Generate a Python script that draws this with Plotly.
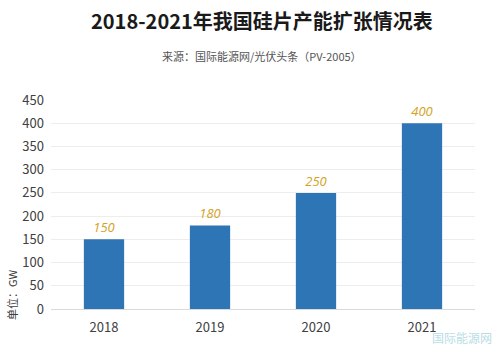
import plotly.graph_objects as go

years = ["2018", "2019", "2020", "2021"]
capacity = [150, 180, 250, 400]
y_ticks = [0, 50, 100, 150, 200, 250, 300, 350, 400, 450]

font_cjk = "Noto Sans CJK SC, Microsoft YaHei, sans-serif"

fig = go.Figure()
fig.add_trace(go.Bar(
    x=years, y=capacity,
    marker=dict(color="#2E75B6", line=dict(width=0)),
    text=[str(v) for v in capacity],
    textposition="outside",
    textfont=dict(color="#D4A21E", size=13, family="Open Sans, sans-serif", style="italic"),
    cliponaxis=False,
))

plot_h = 350 - 100 - 41
plot_w = 500 - 51 - 25
def py(y_px):
    return (350 - 41 - y_px) / plot_h
def px(x_px):
    return (x_px - 51) / plot_w

fig.update_layout(
    width=500, height=350,
    margin=dict(l=51, r=25, t=100, b=41),
    paper_bgcolor="white", plot_bgcolor="white",
    bargap=0.62,
    showlegend=False,
    font=dict(family=font_cjk, color="#404040"),
    xaxis=dict(showgrid=False, showline=True, linecolor="#D9D9D9", linewidth=1,
               ticks="", tickfont=dict(size=13, color="#404040"), ticklabelstandoff=6),
    yaxis=dict(range=[0, 450], tickvals=y_ticks, showgrid=True, gridcolor="#EDEDED",
               gridwidth=1, zeroline=False, ticks="", showline=False,
               tickfont=dict(size=13, color="#404040"), ticklabelstandoff=6),
    annotations=[
        dict(text="<b>2018-2021年我国硅片产能扩张情况表</b>", x=px(262), y=py(20),
             xref="paper", yref="paper", xanchor="center", yanchor="middle",
             showarrow=False, font=dict(size=20, color="#1a1a1a", family=font_cjk)),
        dict(text="来源：国际能源网/光伏头条（PV-2005）", x=px(262), y=py(56),
             xref="paper", yref="paper", xanchor="center", yanchor="middle",
             showarrow=False, font=dict(size=11, color="#555555", family=font_cjk)),
        dict(text="单位：GW", textangle=-90, x=px(12), y=py(295),
             xref="paper", yref="paper", xanchor="center", yanchor="middle",
             showarrow=False, font=dict(size=11, color="#404040", family=font_cjk)),
        dict(text="国际能源网", x=px(462), y=py(337),
             xref="paper", yref="paper", xanchor="center", yanchor="middle",
             showarrow=False, font=dict(size=12, color="#B8DDE6", family=font_cjk)),
    ],
)

fig.write_html("out.html")
